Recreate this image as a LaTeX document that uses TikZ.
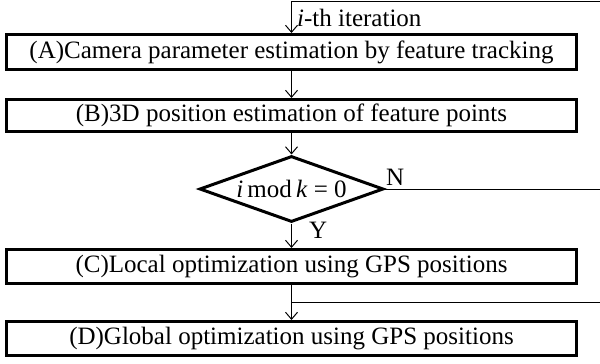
\documentclass[tikz,border=0pt]{standalone}
\usepackage{fontspec}
\setmainfont{Liberation Serif}
\usetikzlibrary{arrows.meta,shapes.geometric,calc}
\begin{document}
\begin{tikzpicture}[x=1pt,y=-1pt,
  font=\fontsize{25}{30}\selectfont,
  stepbox/.style={draw,line width=3pt,rectangle,inner sep=0pt,minimum width=570pt},
  decision/.style={draw,line width=3pt,diamond,inner sep=0pt,minimum width=184pt,minimum height=66pt},
  flow/.style={line width=1pt,-{Straight Barb[length=7pt,width=12pt]}},
  link/.style={line width=1pt}]
\useasboundingbox (0,0) rectangle (600,364);
% processing steps
\node[stepbox,minimum height=35pt] (A) at (291.5,52) {(A)Camera parameter estimation by feature tracking};
\node[stepbox,minimum height=32pt] (B) at (291.5,115.5) {(B)3D position estimation of feature points};
\node[decision] (D1) at (291.5,189) {};
\node[inner sep=0pt] (cond) at (D1.center) {\textit{i}\,mod\,\textit{k} = 0};
\node[stepbox,minimum height=34pt] (C) at (291.5,266.5) {(C)Local optimization using GPS positions};
\node[stepbox,minimum height=34pt] (D) at (291.5,338.5) {(D)Global optimization using GPS positions};
% loop entry and exits at the right edge
\coordinate (topR) at (600,1);
\coordinate (nR) at (600,189);
\coordinate (jc) at (291.5,302);
\coordinate (jR) at (600,302);
\draw[flow] (topR) -| (A.north);
\node[anchor=base west,inner sep=0pt] (itlabel) at (297,27) {\textit{i}-th iteration};
\draw[flow] (A.south) -- (B.north);
\draw[flow] (B.south) -- (D1.north);
\draw[link] (D1.east) -- (nR);
\node[anchor=south west,inner sep=0pt] (nlabel) at (386,186) {N};
\draw[flow] (D1.south) -- (C.north);
\node[anchor=north west,inner sep=0pt] (ylabel) at (309,222) {Y};
\draw[flow] (C.south) -- (D.north);
\draw[link] (jc) -- (jR);
\end{tikzpicture}
\end{document}
